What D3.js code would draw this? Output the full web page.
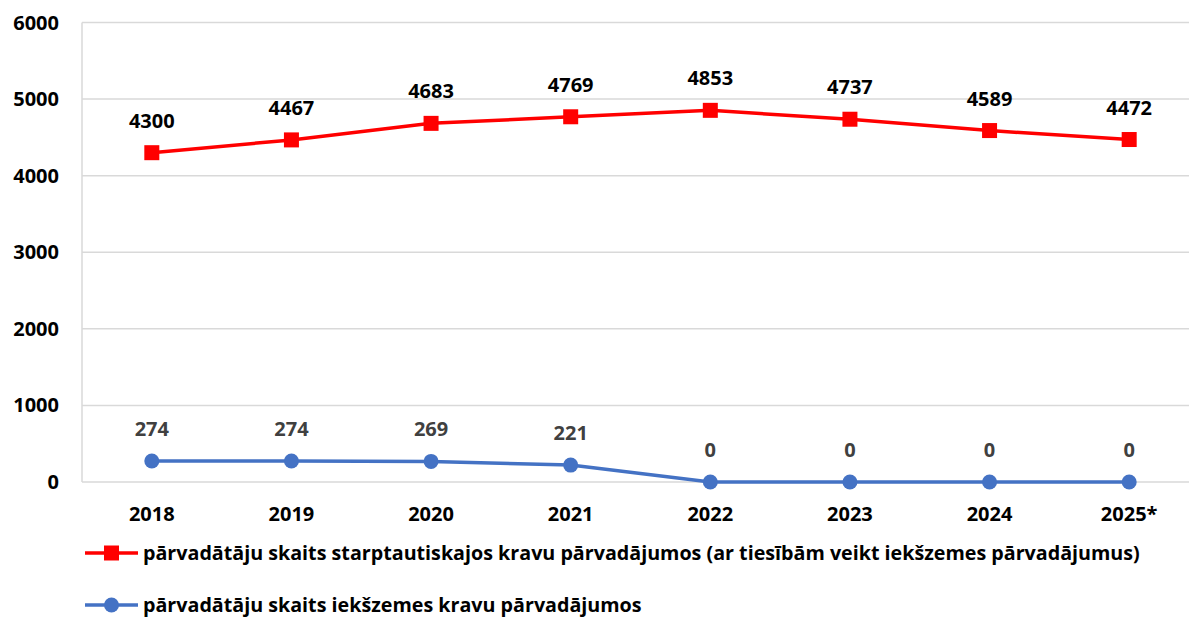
<!DOCTYPE html>
<html>
<head>
<meta charset="utf-8">
<script src="https://cdn.jsdelivr.net/npm/d3@7"></script>
<style>
  body { margin: 0; background: #fff; }
  svg text { font-family: "Open Sans", Lato, sans-serif; font-weight: bold; }
</style>
</head>
<body>
<div id="chart"></div>
<script>
const years = ["2018", "2019", "2020", "2021", "2022", "2023", "2024", "2025*"];
const intlValues = [4300, 4467, 4683, 4769, 4853, 4737, 4589, 4472];
const domValues = [274, 274, 269, 221, 0, 0, 0, 0];
const yTicks = [0, 1000, 2000, 3000, 4000, 5000, 6000];
const seriesNames = [
  "pārvadātāju skaits starptautiskajos kravu pārvadājumos (ar tiesībām veikt iekšzemes pārvadājumus)",
  "pārvadātāju skaits iekšzemes kravu pārvadājumos"
];

const width = 1189, height = 617;
const margin = { top: 22.5, right: -10, bottom: 135, left: 82 };

const svg = d3.select("#chart").append("svg")
  .attr("width", width)
  .attr("height", height);

const x = d3.scaleBand()
  .domain(years)
  .range([margin.left, width - margin.right]);

const y = d3.scaleLinear()
  .domain([0, 6000])
  .range([height - margin.bottom, margin.top]);

// gridlines
svg.append("g")
  .selectAll("line")
  .data(yTicks)
  .enter()
  .append("line")
  .attr("x1", margin.left)
  .attr("x2", width)
  .attr("y1", d => y(d))
  .attr("y2", d => y(d))
  .attr("stroke", "#d9d9d9")
  .attr("stroke-width", 1.5);

// left axis line
svg.append("line")
  .attr("x1", margin.left).attr("x2", margin.left)
  .attr("y1", y(6000)).attr("y2", y(0))
  .attr("stroke", "#d9d9d9")
  .attr("stroke-width", 1.5);

// y tick labels
svg.append("g")
  .selectAll("text")
  .data(yTicks)
  .enter()
  .append("text")
  .attr("x", 59)
  .attr("y", d => y(d))
  .attr("dy", "0.35em")
  .attr("text-anchor", "end")
  .style("font-size", "20px")
  .style("fill", "#000")
  .text(d => d);

// x tick labels
svg.append("g")
  .selectAll("text")
  .data(years)
  .enter()
  .append("text")
  .attr("x", d => x(d) + x.bandwidth() / 2)
  .attr("y", 514)
  .attr("dy", "0.35em")
  .attr("text-anchor", "middle")
  .style("font-size", "20px")
  .style("fill", "#000")
  .text(d => d);

const cx = (d, i) => x(years[i]) + x.bandwidth() / 2;
const line = d3.line().x(cx).y(d => y(d));

const series = [
  { values: intlValues, color: "#ff0000", shape: "square", labelColor: "#000" },
  { values: domValues, color: "#4472c4", shape: "circle", labelColor: "#404040" }
];

series.forEach(s => {
  const g = svg.append("g");
  g.append("path")
    .datum(s.values)
    .attr("d", line)
    .attr("fill", "none")
    .attr("stroke", s.color)
    .attr("stroke-width", 3.5);

  if (s.shape === "square") {
    g.selectAll("rect")
      .data(s.values)
      .enter()
      .append("rect")
      .attr("x", (d, i) => cx(d, i) - 7.5)
      .attr("y", d => y(d) - 7.5)
      .attr("width", 15)
      .attr("height", 15)
      .attr("fill", s.color);
  } else {
    g.selectAll("circle")
      .data(s.values)
      .enter()
      .append("circle")
      .attr("cx", cx)
      .attr("cy", d => y(d))
      .attr("r", 7.5)
      .attr("fill", s.color);
  }

  g.selectAll("text")
    .data(s.values)
    .enter()
    .append("text")
    .attr("x", cx)
    .attr("y", d => y(d) - 32)
    .attr("dy", "0.35em")
    .attr("text-anchor", "middle")
    .style("font-size", "20px")
    .style("fill", s.labelColor)
    .text(d => d);
});

// legend
const legend = svg.append("g");
series.forEach((s, i) => {
  const ly = 553 + i * 52;
  legend.append("line")
    .attr("x1", 85).attr("x2", 138)
    .attr("y1", ly).attr("y2", ly)
    .attr("stroke", s.color)
    .attr("stroke-width", 3.5);
  if (s.shape === "square") {
    legend.append("rect")
      .attr("x", 104).attr("y", ly - 7.5)
      .attr("width", 15).attr("height", 15)
      .attr("fill", s.color);
  } else {
    legend.append("circle")
      .attr("cx", 111.5).attr("cy", ly)
      .attr("r", 7.5)
      .attr("fill", s.color);
  }
  legend.append("text")
    .attr("x", 143)
    .attr("y", ly)
    .attr("dy", "0.35em")
    .style("font-size", "19.7px")
    .style("fill", "#000")
    .text(seriesNames[i]);
});
</script>
</body>
</html>
